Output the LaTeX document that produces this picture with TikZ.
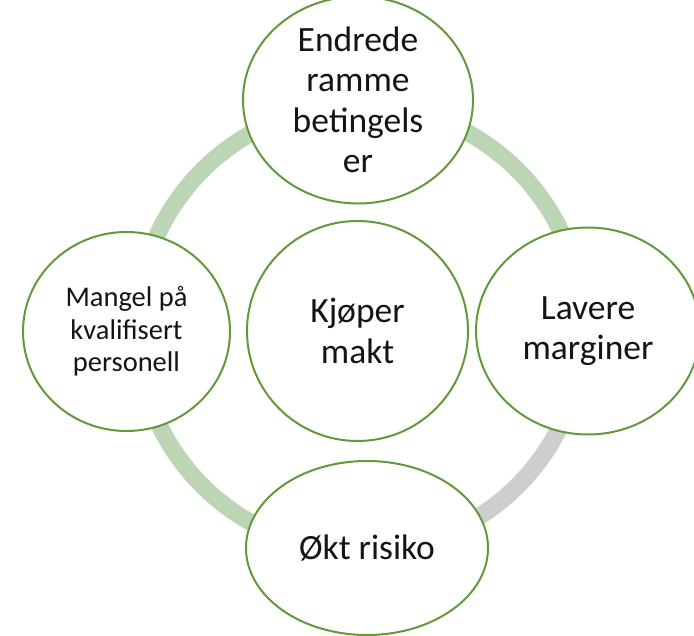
\documentclass[tikz,border=0pt]{standalone}
\usepackage{fontspec}
\setmainfont{Carlito}
\usetikzlibrary{shapes.geometric}
\definecolor{ringgreen}{RGB}{188,213,180}
\definecolor{ringgray}{RGB}{207,205,206}
\definecolor{edgegreen}{RGB}{98,153,58}
\definecolor{txt}{RGB}{20,20,20}
\tikzset{
  bubble/.style={ellipse, draw=edgegreen, line width=2pt, fill=white, inner sep=0pt, align=center, text=txt, font=\fontsize{35.5}{40.5}\selectfont},
  smallbubble/.style={bubble, font=\fontsize{28.5}{32.5}\selectfont},
  ringline/.style={line width=17pt}
}
\begin{document}
\begin{tikzpicture}[x=1pt,y=-1pt]
\useasboundingbox (0,0) rectangle (694,636);
\coordinate (ringc) at (360,328);
\draw[ringline, ringgreen] (ringc) circle (223);
\draw[ringline, ringgray] ([shift={(0:223)}]ringc) arc[start angle=0, end angle=90, radius=223];
\node[bubble, minimum width=230, minimum height=185] (top) at (358,100) {Endrede\\ramme\\betingels\\er};
\node[bubble, minimum width=221, minimum height=220] (mid) at (357.5,331) {Kjøper\\makt};
\node[bubble, minimum width=224, minimum height=207] (right) at (588,331) {Lavere\\marginer};
\node[bubble, minimum width=242, minimum height=174] (bottom) at (367,548) {Økt risiko};
\node[smallbubble, minimum width=207, minimum height=199] (left) at (126.5,331.5) {Mangel på\\kvalifisert\\personell};
\end{tikzpicture}
\end{document}
